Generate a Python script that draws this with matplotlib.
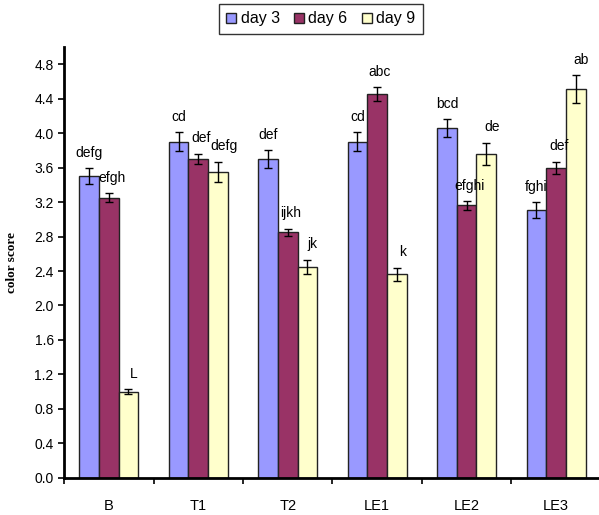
import numpy as np
import matplotlib.pyplot as plt

plt.rcParams['font.family'] = ['Liberation Sans', 'DejaVu Sans']

# colour score of each treatment over storage days
groups = ["B", "T1", "T2", "LE1", "LE2", "LE3"]
days = ["day 3", "day 6", "day 9"]

day3 = [3.50, 3.90, 3.70, 3.90, 4.06, 3.11]
day6 = [3.25, 3.70, 2.85, 4.45, 3.16, 3.60]
day9 = [1.00, 3.55, 2.45, 2.36, 3.76, 4.51]

err3 = [0.09, 0.11, 0.10, 0.11, 0.10, 0.09]
err6 = [0.05, 0.06, 0.04, 0.08, 0.05, 0.07]
err9 = [0.03, 0.12, 0.08, 0.08, 0.13, 0.16]

let3 = ["defg", "cd", "def", "cd", "bcd", "fghi"]
let6 = ["efgh", "def", "ijkh", "abc", "efghi", "def"]
let9 = ["L", "defg", "jk", "k", "de", "ab"]

colors = ["#9999ff", "#993366", "#ffffcc"]

fig = plt.figure(figsize=(5.99, 5.15), dpi=100)
ax = fig.add_axes([0.107, 0.072, 0.893, 0.837])

x = np.arange(len(groups))
w = 0.22
series = [(day3, err3, let3), (day6, err6, let6), (day9, err9, let9)]
for k, (vals, errs, lets) in enumerate(series):
    xs = x + (k - 1) * w
    ax.bar(xs, vals, w, color=colors[k], edgecolor="#222222", linewidth=1.0,
           label=days[k], zorder=2)
    ax.errorbar(xs, vals, yerr=errs, fmt="none", ecolor="black",
                elinewidth=1.0, capsize=3, capthick=1.0, zorder=3)
    # letters sit just above the error bar, nudged right for later days
    for xi, v, e, t in zip(xs, vals, errs, lets):
        ax.annotate(t, (xi, v + e), xytext=(2 * k, 6),
                    textcoords="offset points",
                    ha="center", va="bottom", fontsize=10)

ax.set_xlim(-0.5, 5.48)
ax.set_ylim(0, 5.0)
yt = np.arange(0, 4.81, 0.4)
ax.set_yticks(yt)
ax.set_yticklabels([f"{v:.1f}" for v in yt], fontsize=10)
ax.set_xticks(x)
ax.set_xticklabels(groups, fontsize=10.5)
ax.set_xticks(np.arange(-0.5, 5.5, 1.0), minor=True)
ax.tick_params(axis="x", which="major", length=0, pad=15)
ax.tick_params(axis="x", which="minor", length=4, width=1.2, direction="out")
ax.tick_params(axis="y", length=4, width=1.2, direction="out")

for s in ["top", "right"]:
    ax.spines[s].set_visible(False)
for s in ["left", "bottom"]:
    ax.spines[s].set_linewidth(2.0)

ax.set_ylabel("color score", family=["Liberation Serif"], fontweight="bold",
              fontsize=9.5, labelpad=12)

leg = ax.legend(loc="center", bbox_to_anchor=(0.48, 1.065), ncol=3,
                fontsize=11.5, frameon=True, fancybox=False, edgecolor="black",
                handlelength=0.6, handleheight=0.6, handletextpad=0.3,
                columnspacing=0.9, borderpad=0.45)
leg.get_frame().set_linewidth(1.0)

fig.savefig("out.png", dpi=100)
